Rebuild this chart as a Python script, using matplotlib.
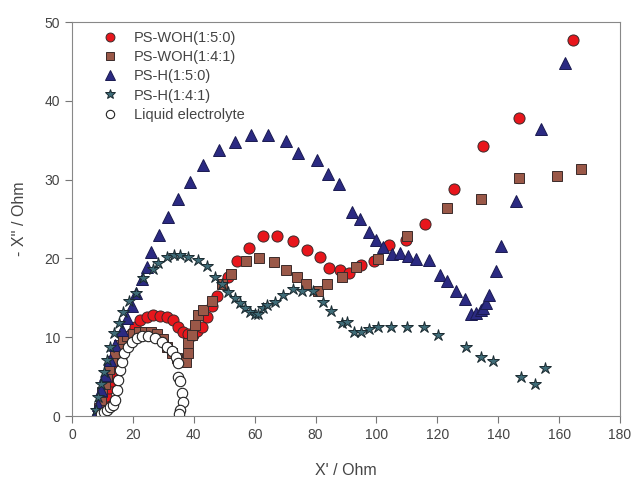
import matplotlib
matplotlib.use('Agg')
import numpy as np
import matplotlib.pyplot as plt

plt.rcParams['font.family'] = ['Liberation Sans', 'DejaVu Sans']

# PS-WOH(1:5:0)
woh150_x = [10, 10.5, 11, 12, 13, 14, 15, 16, 17, 18, 19.6, 20.7, 22.3, 24.5, 26.7, 28.9, 31.1,
            33.3, 34.9, 36.6, 38, 39.8, 41.2, 42.6, 44.2, 46.1, 47.7, 51.2, 54.3, 58.1, 62.6,
            67.4, 72.7, 77.3, 81.5, 84.3, 88, 91.1, 94.9, 99.3, 104.2, 109.7, 116, 125.6,
            134.9, 146.7, 164.5]
woh150_y = [0.5, 1.5, 2.5, 3.5, 4.5, 5.5, 6.5, 7.5, 8.5, 9.5, 10.5, 11.3, 12.2, 12.6, 12.8, 12.7,
            12.6, 12.2, 11.3, 10.7, 10.4, 10.3, 10.8, 11.3, 12.6, 14, 15.2, 17.7, 19.7, 21.3,
            22.8, 22.8, 22.2, 21.1, 20.2, 18.8, 18.5, 18.1, 19.2, 19.7, 21.7, 22.4, 24.4, 28.8,
            34.3, 37.8, 47.7]

# PS-WOH(1:4:1)
woh141_x = [8.5, 9, 9.5, 10, 10.7, 11.4, 12.2, 13, 14, 15.3, 16.6, 18, 20, 22, 24, 26, 28, 29.8,
            31.1, 32.7, 34.4, 36, 37.4, 38, 38.2, 39.3, 40.4, 41.5, 43.1, 45.9, 49.2, 52.1,
            57.1, 61.4, 66.5, 70.3, 73.8, 76.9, 80.7, 83.8, 88.6, 93.2, 100.6, 109.9, 123.3,
            134.4, 146.8, 159.2, 167.2]
woh141_y = [0.2, 1, 2, 3, 4, 5, 6, 7, 8, 9, 9.8, 10.1, 10.4, 10.6, 10.6, 10.6, 10.4, 9.8, 8.8, 8,
            7.3, 6.9, 6.9, 8, 9.3, 10.3, 11.5, 12.8, 13.5, 14.6, 16.8, 18, 19.7, 20.1, 19.6,
            18.5, 17.6, 16.8, 15.9, 16.7, 17.6, 18.9, 19.9, 22.8, 26.4, 27.6, 30.2, 30.5, 31.4]

# PS-H(1:5:0)
h150_x = [7.9, 8.5, 9.5, 10.8, 12.5, 14.1, 16.3, 18, 19.6, 21, 22.9, 24.5, 25.8, 28.7, 31.4,
          34.7, 38.9, 43, 48.4, 53.5, 58.8, 64.5, 70.2, 74.3, 80.6, 84, 87.8, 91.9, 94.6, 97.6,
          99.9, 102.3, 105, 107.8, 110.5, 113, 117.1, 120.7, 123.2, 126, 129.2, 131, 132.7,
          134.3, 135.1, 136, 137, 139.2, 141, 145.9, 154.1, 162]
h150_y = [0.4, 1.4, 3.3, 5.2, 7.1, 9, 10.9, 12.4, 13.9, 15.6, 17.4, 18.9, 20.8, 23, 25.3, 27.5,
          29.7, 31.8, 33.7, 34.8, 35.6, 35.7, 34.9, 33.4, 32.5, 30.7, 29.4, 25.9, 25, 23.4,
          22.4, 21.5, 20.5, 20.7, 20.3, 19.9, 19.8, 17.9, 17.1, 15.9, 14.8, 12.9, 13.1, 13.4,
          13.7, 14.3, 15.4, 18.4, 21.6, 27.3, 36.4, 44.8]

# PS-H(1:4:1)
h141_x = [7.9, 8.6, 9.5, 10.5, 11.4, 12.5, 13.9, 15.4, 16.9, 18.8, 21, 23.4, 26.5, 28.4, 31.1,
          33.6, 35.5, 38.2, 41.5, 44.4, 47, 49.2, 51.2, 53.5, 55.2, 56.8, 58.5, 60.1, 61.2,
          62.6, 64.2, 66.7, 69.4, 72.5, 75.5, 79.1, 82.3, 85, 88.6, 90.4, 92.6, 94.8, 97.7,
          100.6, 104.7, 109.9, 115.7, 120.1, 129.3, 134.4, 138.4, 147.5, 152.1, 155.4]
h141_y = [0.8, 2.4, 4.1, 5.6, 7.1, 8.8, 10.5, 11.8, 13.2, 14.6, 15.6, 17.5, 18.7, 19.4, 20.2,
          20.4, 20.4, 20.2, 19.8, 19.1, 17.7, 16.8, 15.8, 15, 14.3, 13.7, 13.2, 13, 12.9, 13.7,
          14.1, 14.5, 15.4, 16.1, 15.9, 15.9, 14.5, 13.3, 11.8, 11.9, 10.6, 10.6, 11, 11.3,
          11.3, 11.3, 11.3, 10.3, 8.7, 7.5, 7, 5, 4.1, 6.1]

# Liquid electrolyte
liq_x = [9.5, 10.5, 11.5, 12.5, 13.6, 14.1, 14.7, 15.2, 15.8, 16.3, 17.2, 18.3, 19.6, 21.2,
         22.9, 25.1, 27.3, 29.5, 31.3, 32.7, 34.2, 34.9, 34.7, 35.5, 36, 36.6, 35.5, 35]
liq_y = [0.2, 0.5, 0.8, 1.2, 1.4, 2, 3.3, 4.6, 5.8, 6.9, 8, 8.8, 9.4, 9.9, 10.2, 10.1, 9.9, 9.4,
         8.8, 8.2, 7.5, 6.7, 5, 4.4, 2.9, 1.8, 0.8, 0.3]

labels = ['PS-WOH(1:5:0)', 'PS-WOH(1:4:1)', 'PS-H(1:5:0)', 'PS-H(1:4:1)', 'Liquid electrolyte']

fig = plt.figure(figsize=(6.34, 4.79), dpi=100)
ax = fig.add_axes([0.1136, 0.1315, 0.8644, 0.8225])

edge = '#3a2a2a'
ax.plot(woh150_x, woh150_y, 'o', ms=8, mfc='#e8161c', mec=edge, mew=0.7, label=labels[0])
ax.plot(woh141_x, woh141_y, 's', ms=7.5, mfc='#9a5848', mec=edge, mew=0.7, label=labels[1])
ax.plot(h150_x, h150_y, '^', ms=8.5, mfc='#2b2a82', mec='#1a1a50', mew=0.7, label=labels[2])
ax.plot(h141_x, h141_y, '*', ms=9, mfc='#3f6c78', mec='#1a2a30', mew=0.7, label=labels[3])
ax.plot(liq_x, liq_y, 'o', ms=7.5, mfc='white', mec='#222222', mew=0.8, label=labels[4])

ax.set_xlim(0, 180)
ax.set_ylim(0, 50)
ax.set_xticks(np.arange(0, 181, 20))
ax.set_yticks(np.arange(0, 51, 10))
for s in ax.spines.values():
    s.set_color('#888888')
ax.tick_params(direction='out', length=5, color='#777777', labelsize=10, labelcolor='#444444')
ax.set_xlabel("X' / Ohm", fontsize=11.5, color='#444444', labelpad=15)
ax.set_ylabel("- X'' / Ohm", fontsize=11.5, color='#444444', labelpad=13)

leg = ax.legend(loc='upper left', bbox_to_anchor=(0.03, 1.01), frameon=False, fontsize=10.5,
                markerscale=0.8, handlelength=1.2, handletextpad=1.0, labelspacing=0.35,
                labelcolor='#444444')

fig.savefig('out.png', dpi=100)
